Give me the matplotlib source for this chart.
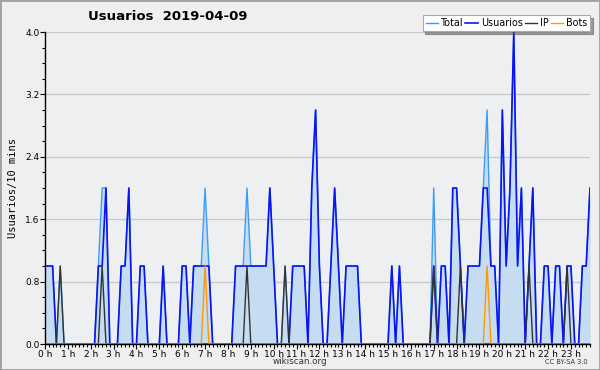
import matplotlib
matplotlib.use("Agg")
import matplotlib.pyplot as plt
from matplotlib.patches import Rectangle
from matplotlib.ticker import MultipleLocator
import numpy as np

hours = [f"{h} h" for h in range(24)]

usuarios = [1,1,1,0,0,0,0,0,0,0, 0,0,0,0,1,1,2,0,0,0,
            1,1,2,0,0,1,1,0,0,0, 0,1,0,0,0,0,1,1,0,1,
            1,1,1,1,0,0,0,0,0,0, 1,1,1,1,1,1,1,1,1,2,
            1,0,0,0,0,1,1,1,1,0, 2,3,1,0,0,1,2,1,0,1,
            1,1,1,0,0,0,0,0,0,0, 0,1,0,1,0,0,0,0,0,0,
            0,0,1,0,1,1,0,2,2,1, 0,1,1,1,1,2,2,1,1,0,
            3,1,2,4,1,2,0,1,2,0, 0,1,1,0,1,1,0,1,1,0,
            0,1,1,2]
ip = [0]*144
for i in [4, 15, 53, 63, 102, 109, 127, 137]:
    ip[i] = 1
bots = [0]*144
for i in [42, 116]:
    bots[i] = 1
total = [1,1,1,0,1,0,0,0,0,0, 0,0,0,0,1,2,2,0,0,0,
         1,1,2,0,0,1,1,0,0,0, 0,1,0,0,0,0,1,1,0,1,
         1,1,2,1,0,0,0,0,0,0, 1,1,1,2,1,1,1,1,1,2,
         1,0,0,1,0,1,1,1,1,0, 2,3,1,0,0,1,2,1,0,1,
         1,1,1,0,0,0,0,0,0,0, 0,1,0,1,0,0,0,0,0,0,
         0,0,2,0,1,1,0,2,2,1, 0,1,1,1,1,2,3,1,1,0,
         3,1,2,4,1,2,0,1,2,0, 0,1,1,0,1,1,0,1,1,0,
         0,1,1,2]

x = np.arange(len(usuarios))

fig = plt.figure(figsize=(6, 3.7), dpi=100, facecolor="#efefef")
fig.patches.append(Rectangle((0, 0), 1, 1, transform=fig.transFigure,
                             fill=False, edgecolor="#a0a0a0", linewidth=2))
ax = fig.add_axes([45/600, 26/370, 545/600, 312/370])
ax.set_facecolor("#eeeff1")

ax.fill_between(x, total, 0, color="#c6dcf0", linewidth=0)
ax.plot(x, total, color="#3d9df5", lw=1.0, label="Total")
ax.plot(x, usuarios, color="#0a14f5", lw=1.2, label="Usuarios")
ax.plot(x, ip, color="#333333", lw=1.0, label="IP")
ax.plot(x, bots, color="#ff9900", lw=1.0, label="Bots")

ax.set_xlim(0, 143)
ax.set_ylim(0, 4.0)
ax.set_yticks([0, 0.8, 1.6, 2.4, 3.2, 4.0])
ax.set_yticklabels(["0.0", "0.8", "1.6", "2.4", "3.2", "4.0"])
ax.yaxis.set_minor_locator(MultipleLocator(0.2))
ax.set_xticks(np.arange(0, 144, 6))
ax.set_xticklabels(hours)
ax.xaxis.set_minor_locator(MultipleLocator(1))
ax.tick_params(axis="both", labelsize=6.5, colors="black", length=3.5, width=0.8, pad=0.5)
ax.tick_params(axis="both", which="minor", length=2.5, width=0.8)
ax.grid(axis="y", color="#c8c8c8", lw=0.9)
ax.set_axisbelow(True)
for s in ["top", "right"]:
    ax.spines[s].set_visible(False)
ax.spines["left"].set_linewidth(1.0)
ax.spines["bottom"].set_linewidth(1.0)

ax.set_ylabel("Usuarios/10 mins", fontsize=7.5, family="DejaVu Sans Mono", labelpad=5)
fig.text(88/600, 1 - 17/370, "Usuarios  2019-04-09", fontsize=9.5, fontweight="bold",
         ha="left", va="center")
fig.text(300/600, 1 - 362/370, "wikiscan.org", fontsize=6.3, ha="center", va="center", color="#333333")
fig.text(588/600, 1 - 362/370, "CC BY-SA 3.0", fontsize=4.8, ha="right", va="center", color="#333333")

leg = ax.legend(loc="upper right", bbox_to_anchor=(590/600, 1 - 15/370),
                bbox_transform=fig.transFigure, ncol=4, fontsize=6.9,
                frameon=True, fancybox=False, shadow=True, handlelength=1.3,
                handletextpad=0.3, columnspacing=0.2, borderpad=0.3,
                borderaxespad=0)
leg.get_frame().set_edgecolor("#aaaaaa")
leg.get_frame().set_facecolor("white")
leg.get_frame().set_linewidth(0.8)

fig.savefig("out.png", dpi=100, facecolor=fig.get_facecolor())
